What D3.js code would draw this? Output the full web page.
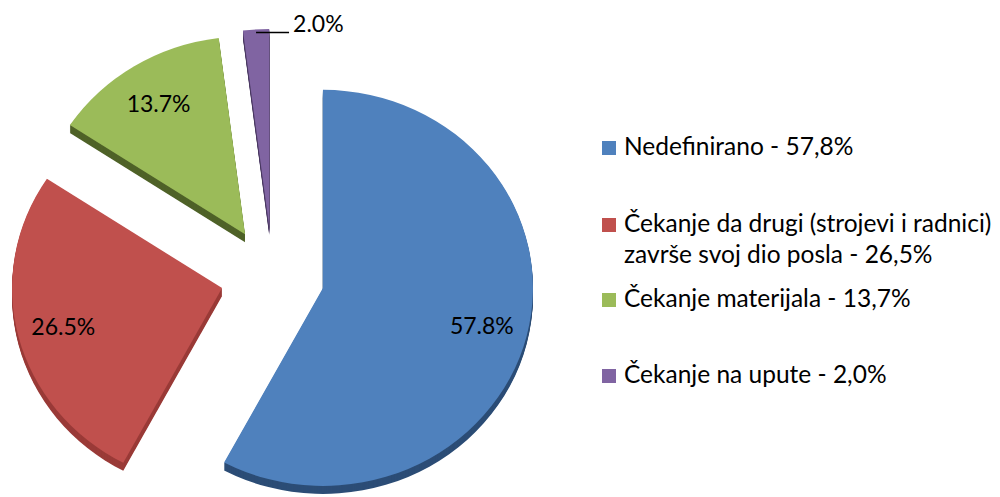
<!DOCTYPE html>
<html>
<head>
<meta charset="utf-8">
<script src="https://cdn.jsdelivr.net/npm/d3@7/dist/d3.min.js"></script>
<style>
  html, body { margin: 0; padding: 0; background: #ffffff; }
  svg { display: block; }
  text { font-family: Lato, "Noto Sans", sans-serif; fill: #000; }
</style>
</head>
<body>
<svg id="chart" width="1000" height="497"></svg>
<script>
// Waiting-time causes and their shares (%)
const categories = [
  "Nedefinirano",
  "Čekanje da drugi (strojevi i radnici) završe svoj dio posla",
  "Čekanje materijala",
  "Čekanje na upute"
];
const shares = [57.8, 26.5, 13.7, 2.0];
const sliceLabels = ["57.8%", "26.5%", "13.7%", "2.0%"];
const legendLines = [
  ["Nedefinirano - 57,8%"],
  ["Čekanje da drugi (strojevi i radnici)", "završe svoj dio posla - 26,5%"],
  ["Čekanje materijala - 13,7%"],
  ["Čekanje na upute - 2,0%"]
];

// Office-style palette: top faces and darker extruded sides
const faceColors = ["#4F81BD", "#C0504D", "#9BBB59", "#8064A2"];
const sideColors = ["#2C4D76", "#9A3B38", "#4F6228", "#4B3A63"];

const svg = d3.select("#chart");

// Pie geometry (slightly tilted, exploded slices with a thin extrusion)
const cx = 272.5, cy = 276;
const r = 210;          // horizontal radius
const tilt = 0.943;     // vertical squash of the disc
const explode = 52;     // outward offset of every slice
const depth = 8;        // thickness of the extrusion

const pie = d3.pie().sort(null).value(d => d);
const arcs = pie(shares);
const arc = d3.arc().innerRadius(0).outerRadius(r);

function offsetOf(a) {
  const mid = (a.startAngle + a.endAngle) / 2;
  return [cx + Math.sin(mid) * explode, cy - Math.cos(mid) * explode * tilt];
}

const pieG = svg.append("g");

// extruded sides
arcs.forEach((a, i) => {
  const [ox, oy] = offsetOf(a);
  for (let t = depth; t >= 1; t--) {
    pieG.append("path")
      .attr("transform", `translate(${ox},${oy + t}) scale(1,${tilt})`)
      .attr("d", arc(a))
      .attr("fill", sideColors[i]);
  }
});

// top faces
arcs.forEach((a, i) => {
  const [ox, oy] = offsetOf(a);
  pieG.append("path")
    .attr("transform", `translate(${ox},${oy}) scale(1,${tilt})`)
    .attr("d", arc(a))
    .attr("fill", faceColors[i]);
});

// value labels: inside for the big slices, outside with a leader for the smallest
const labelArc = d3.arc().innerRadius(r * 0.78).outerRadius(r * 0.78);
arcs.forEach((a, i) => {
  const [ox, oy] = offsetOf(a);
  if (a.endAngle - a.startAngle > 0.3) {
    const [lx, ly] = labelArc.centroid(a);
    pieG.append("text")
      .attr("x", ox + lx)
      .attr("y", oy + ly * tilt)
      .attr("text-anchor", "middle")
      .attr("dominant-baseline", "central")
      .attr("font-size", 23)
      .text(sliceLabels[i]);
  } else {
    const outer = d3.arc().innerRadius(r).outerRadius(r).centroid(a);
    const x0 = ox + outer[0], y0 = oy + outer[1] * tilt + 3;
    pieG.append("line")
      .attr("x1", x0).attr("y1", y0)
      .attr("x2", x0 + 33).attr("y2", y0)
      .attr("stroke", "#000").attr("stroke-width", 1.5);
    pieG.append("text")
      .attr("x", x0 + 37)
      .attr("y", y0)
      .attr("font-size", 23)
      .text(sliceLabels[i]);
  }
});

// legend
const legendX = 602, textX = 624;
const rowBaselines = [155, 232, 307, 383];
const lineGap = 31;
const legend = svg.append("g");
legendLines.forEach((lines, i) => {
  const base = rowBaselines[i];
  legend.append("rect")
    .attr("x", legendX).attr("y", base - 14)
    .attr("width", 14).attr("height", 14)
    .attr("fill", faceColors[i]);
  lines.forEach((ln, j) => {
    legend.append("text")
      .attr("x", textX)
      .attr("y", base + j * lineGap)
      .attr("font-size", 24.5)
      .text(ln);
  });
});
</script>
</body>
</html>
